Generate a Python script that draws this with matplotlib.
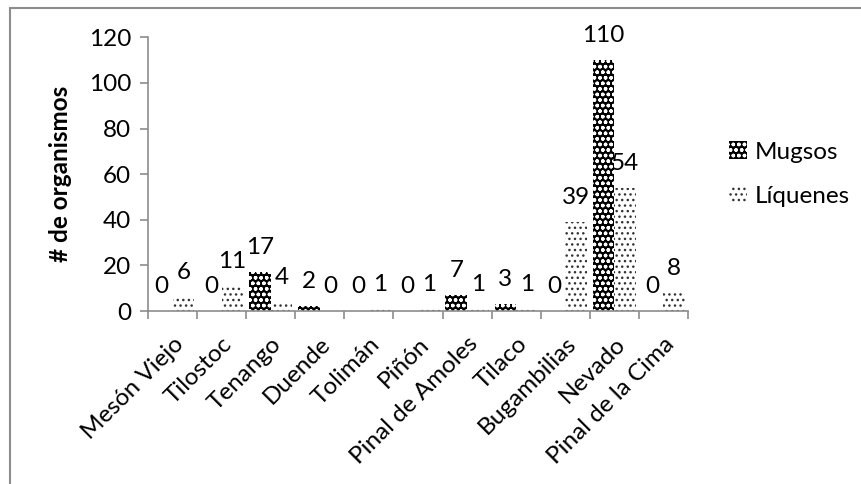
import matplotlib
matplotlib.use('Agg')
import matplotlib.pyplot as plt
import numpy as np
from matplotlib.patches import Rectangle

# Datos
sitios = ['Mesón Viejo', 'Tilostoc', 'Tenango', 'Duende', 'Tolimán', 'Piñón',
          'Pinal de Amoles', 'Tilaco', 'Bugambilias', 'Nevado', 'Pinal de la Cima']
mugsos = [0, 0, 17, 2, 0, 0, 7, 3, 0, 110, 0]
liquenes = [6, 11, 4, 0, 1, 1, 1, 1, 39, 54, 8]

plt.rcParams['font.family'] = ['Lato', 'DejaVu Sans']
plt.rcParams['hatch.linewidth'] = 1.0
fs = 17.5
gris = '#8c8c8c'

fig = plt.figure(figsize=(8.61, 4.84), dpi=100)
ax = fig.add_axes([148 / 861, 1 - 311 / 484, 540 / 861, (311 - 37.3) / 484])

x = np.arange(len(sitios))
w = 0.44
ax.bar(x - w / 2, mugsos, w, facecolor='black', edgecolor='white',
       linewidth=0, hatch='ooo', label='Mugsos')
ax.bar(x + w / 2, liquenes, w, facecolor='white', edgecolor='#333333',
       linewidth=0, hatch='...', label='Líquenes')

# Etiquetas de datos
for xi, v in zip(x - w / 2, mugsos):
    ax.annotate(str(v), (xi, v), xytext=(0, 13), textcoords='offset points',
                ha='center', va='baseline', fontsize=fs)
for xi, v in zip(x + w / 2, liquenes):
    ax.annotate(str(v), (xi, v), xytext=(0, 13), textcoords='offset points',
                ha='center', va='baseline', fontsize=fs)

ax.set_xlim(-0.5, len(sitios) - 0.5)
ax.set_ylim(0, 120)
ax.set_yticks(range(0, 121, 20))
ax.set_xticks(x)
ax.set_xticklabels(sitios, rotation=45, ha='right', rotation_mode='anchor', fontsize=fs)
ax.set_xticks(np.arange(-0.5, len(sitios)), minor=True)
ax.tick_params(axis='x', which='major', length=0, pad=16)
ax.tick_params(axis='x', which='minor', length=6, direction='out', color=gris, width=1.2)
ax.tick_params(axis='y', length=6, direction='out', color=gris, width=1.2, labelsize=fs, pad=6)

for s in ['top', 'right']:
    ax.spines[s].set_visible(False)
for s in ['left', 'bottom']:
    ax.spines[s].set_color(gris)
    ax.spines[s].set_linewidth(1.2)

ax.set_ylabel('# de organismos', fontsize=fs, fontweight='bold')
ax.yaxis.set_label_coords(-0.141, 0.5)

ax.legend(loc='center left', bbox_to_anchor=(1.035, 0.5), frameon=False, fontsize=fs,
          handlelength=0.75, handleheight=0.75, handletextpad=0.3, labelspacing=0.95)

# Marco del gráfico
fig.patches.append(Rectangle((10 / 861, -0.1), 1.2, 1.1 - 8 / 484, transform=fig.transFigure,
                             fill=False, edgecolor=gris, linewidth=1.5))

plt.savefig('out.png', dpi=100)
